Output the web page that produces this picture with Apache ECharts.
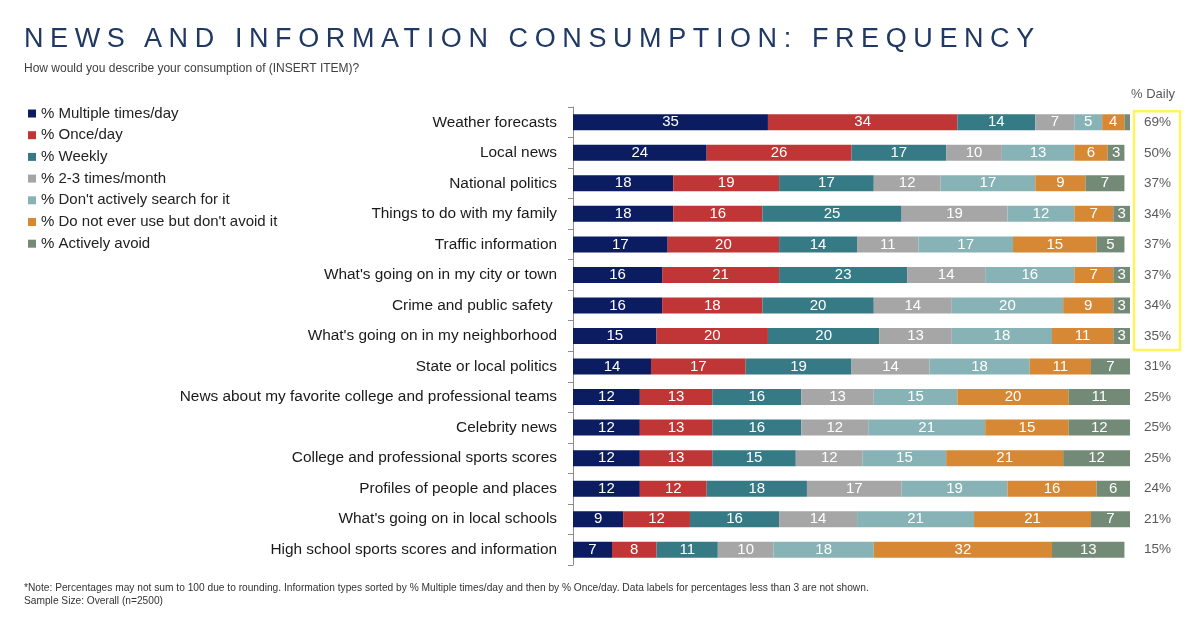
<!DOCTYPE html>
<html>
<head>
<meta charset="utf-8">
<script src="https://cdn.jsdelivr.net/npm/echarts@6/dist/echarts.min.js"></script>
<style>
  html, body { margin: 0; padding: 0; background: #fff; }
  #wrap { position: relative; width: 1200px; height: 633px; }
  #chart { position: absolute; left: 0; top: 0; width: 1200px; height: 633px; }
  #title { position: absolute; left: 24px; top: 23px; font-family: "Liberation Sans", Arial, sans-serif;
           font-size: 27px; color: #1F3864; letter-spacing: 6.6px; white-space: nowrap; }
</style>
</head>
<body>
<div id="wrap">
  <div id="chart"></div>
  <div id="title">NEWS AND INFORMATION CONSUMPTION: FREQUENCY</div>
</div>
<script>
const categories = [
  "Weather forecasts",
  "Local news",
  "National politics",
  "Things to do with my family",
  "Traffic information",
  "What's going on in my city or town",
  "Crime and public safety ",
  "What's going on in my neighborhood",
  "State or local politics",
  "News about my favorite college and professional teams",
  "Celebrity news",
  "College and professional sports scores",
  "Profiles of people and places",
  "What's going on in local schools",
  "High school sports scores and information"
];
const seriesNames = [
  "% Multiple times/day",
  "% Once/day",
  "% Weekly",
  "% 2-3 times/month",
  "% Don't actively search for it",
  "% Do not ever use but don't avoid it",
  "% Actively avoid"
];
const multipleTimesDay = [35, 24, 18, 18, 17, 16, 16, 15, 14, 12, 12, 12, 12, 9, 7];
const onceDay          = [34, 26, 19, 16, 20, 21, 18, 20, 17, 13, 13, 13, 12, 12, 8];
const weekly           = [14, 17, 17, 25, 14, 23, 20, 20, 19, 16, 16, 15, 18, 16, 11];
const twoThreeMonth    = [7, 10, 12, 19, 11, 14, 14, 13, 14, 13, 12, 12, 17, 14, 10];
const dontSearch       = [5, 13, 17, 12, 17, 16, 20, 18, 18, 15, 21, 15, 19, 21, 18];
const neverUse         = [4, 6, 9, 7, 15, 7, 9, 11, 11, 20, 15, 21, 16, 21, 32];
const activelyAvoid    = [1, 3, 7, 3, 5, 3, 3, 3, 7, 11, 12, 12, 6, 7, 13];
const dailyPct         = [69, 50, 37, 34, 37, 37, 34, 35, 31, 25, 25, 25, 24, 21, 15];
const highlightedRows  = 8;

const colors = ["#0B1C60", "#C03636", "#367A86", "#A6A6A6", "#88B3B6", "#D68835", "#738A76"];
const seriesValues = [multipleTimesDay, onceDay, weekly, twoThreeMonth, dontSearch, neverUse, activelyAvoid];
const FONT = '"Liberation Sans", Arial, sans-serif';

const chart = echarts.init(document.getElementById('chart'), null, { renderer: 'canvas' });

const option = {
  animation: false,
  textStyle: { fontFamily: FONT },
  title: [
    {
      text: "How would you describe your consumption of (INSERT ITEM)?",
      left: 24, top: 63, padding: 0,
      textStyle: { fontSize: 12, fontWeight: 'normal', color: '#404040', fontFamily: FONT }
    },
    {
      text: "*Note: Percentages may not sum to 100 due to rounding. Information types sorted by % Multiple times/day and then by % Once/day. Data labels for percentages less than 3 are not shown.\nSample Size: Overall (n=2500)",
      left: 24, top: 582, padding: 0,
      textStyle: { fontSize: 10.2, fontWeight: 'normal', color: '#333', fontFamily: FONT, lineHeight: 13 }
    }
  ],
  legend: {
    orient: 'vertical',
    left: 28, top: 105, padding: 0,
    itemWidth: 8, itemHeight: 8,
    itemGap: 4.7,
    icon: 'rect',
    textStyle: { fontSize: 15, color: '#222', fontFamily: FONT, lineHeight: 17 },
    data: seriesNames
  },
  grid: { left: 573, right: 70, top: 107, bottom: 68, containLabel: false },
  xAxis: {
    type: 'value', min: 0, max: 100, show: false
  },
  yAxis: [
    {
      type: 'category', data: categories, inverse: true,
      axisLine: { show: true, lineStyle: { color: '#8c8c8c', width: 1 } },
      axisTick: { show: true, length: 5, lineStyle: { color: '#8c8c8c' } },
      axisLabel: { fontSize: 15.4, color: '#1a1a1a', margin: 16, fontFamily: FONT }
    },
    {
      type: 'category', data: categories, inverse: true, position: 'right',
      name: '% Daily', nameLocation: 'start', nameGap: 6,
      nameTextStyle: { fontSize: 13, color: '#595959', align: 'left', padding: [0, 0, 0, 1], fontFamily: FONT },
      axisLine: { show: false }, axisTick: { show: false },
      axisLabel: {
        margin: 14, fontSize: 13.5, color: '#595959', align: 'left', fontFamily: FONT,
        formatter: (v, i) => dailyPct[i] + '%'
      }
    }
  ],
  series: seriesNames.map((name, k) => ({
    name, type: 'bar', stack: 'total', barWidth: 16,
    yAxisIndex: 0,
    itemStyle: { color: colors[k] },
    label: {
      show: true, position: 'inside', color: '#fff', fontSize: 15, fontFamily: FONT,
      formatter: p => (p.value >= 3 ? String(p.value) : '')
    },
    data: seriesValues[k]
  }))
};
chart.setOption(option);

// yellow highlight box around the % Daily values of the first rows
function drawBox() {
  const xRight = chart.convertToPixel({ xAxisIndex: 0 }, 100);
  const yTop = chart.convertToPixel({ yAxisIndex: 0 }, categories[0]);
  const yBot = chart.convertToPixel({ yAxisIndex: 0 }, categories[highlightedRows - 1]);
  chart.setOption({
    graphic: [{
      type: 'rect',
      shape: { x: xRight + 4, y: yTop - 11, width: 46, height: (yBot - yTop) + 25 },
      style: { fill: 'none', stroke: '#FFF55A', lineWidth: 2.5 },
      silent: true
    }]
  });
}
drawBox();
</script>
</body>
</html>
